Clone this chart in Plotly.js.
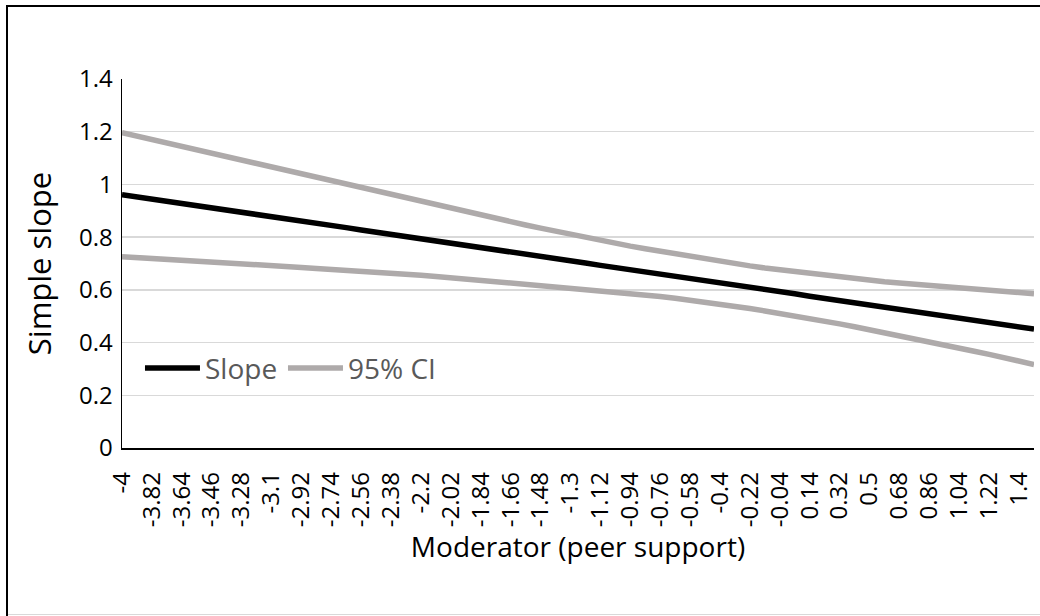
<!DOCTYPE html>
<html>
<head>
<meta charset="utf-8">
<script src="https://cdn.plot.ly/plotly-3.0.1.min.js"></script>
<style>
  html, body { margin: 0; padding: 0; background: #ffffff; }
  #wrap { position: relative; width: 1040px; height: 616px; overflow: hidden; }
  #chart { position: absolute; left: 0; top: 0; width: 1040px; height: 616px; }
  #frame { position: absolute; left: 6px; top: 5px; width: 1040px; height: 620px;
           border-left: 2px solid #000; border-top: 2px solid #000; pointer-events: none; }
  #bottomline { position: absolute; left: 8px; top: 614px; width: 1040px; height: 0;
           border-top: 1px solid #d9d9d9; pointer-events: none; }
</style>
</head>
<body>
<div id="wrap">
  <div id="chart"></div>
  <div id="frame"></div>
  <div id="bottomline"></div>
</div>
<script>
// Moderator values (x categories, step 0.09)
const moderator = [-4,-3.91,-3.82,-3.73,-3.64,-3.55,-3.46,-3.37,-3.28,-3.19,-3.1,-3.01,-2.92,-2.83,-2.74,-2.65,-2.56,-2.47,-2.38,-2.29,-2.2,-2.11,-2.02,-1.93,-1.84,-1.75,-1.66,-1.57,-1.48,-1.39,-1.3,-1.21,-1.12,-1.03,-0.94,-0.85,-0.76,-0.67,-0.58,-0.49,-0.4,-0.31,-0.22,-0.13,-0.04,0.05,0.14,0.23,0.32,0.41,0.5,0.59,0.68,0.77,0.86,0.95,1.04,1.13,1.22,1.31,1.4,1.49];

// Simple slope
const slope = [0.961,0.953,0.944,0.936,0.928,0.919,0.911,0.902,0.894,0.886,0.877,0.869,0.861,0.852,0.844,0.836,0.827,0.819,0.811,0.802,0.794,0.785,0.777,0.769,0.760,0.752,0.744,0.735,0.727,0.719,0.710,0.702,0.693,0.685,0.677,0.668,0.660,0.652,0.643,0.635,0.627,0.618,0.610,0.601,0.593,0.585,0.576,0.568,0.560,0.551,0.543,0.535,0.526,0.518,0.510,0.501,0.493,0.484,0.476,0.468,0.459,0.451];

// 95% CI upper bound
const ciUpper = [1.196,1.183,1.169,1.156,1.143,1.129,1.116,1.103,1.089,1.076,1.063,1.050,1.037,1.024,1.011,0.997,0.984,0.972,0.959,0.946,0.933,0.920,0.908,0.895,0.883,0.871,0.858,0.846,0.834,0.822,0.811,0.799,0.788,0.777,0.766,0.756,0.746,0.736,0.726,0.717,0.708,0.699,0.691,0.683,0.676,0.668,0.662,0.655,0.649,0.643,0.637,0.631,0.626,0.621,0.616,0.611,0.607,0.602,0.598,0.593,0.589,0.585];

// 95% CI lower bound
const ciLower = [0.726,0.723,0.719,0.716,0.713,0.709,0.706,0.702,0.699,0.695,0.692,0.688,0.685,0.681,0.678,0.674,0.670,0.666,0.662,0.658,0.655,0.651,0.646,0.642,0.638,0.634,0.629,0.624,0.620,0.615,0.610,0.604,0.599,0.593,0.587,0.581,0.575,0.568,0.561,0.553,0.545,0.537,0.529,0.520,0.511,0.501,0.491,0.481,0.471,0.460,0.449,0.438,0.426,0.415,0.403,0.391,0.379,0.367,0.355,0.342,0.330,0.317];

// X tick labels (every other category)
const xTickLabels = ["-4","-3.82","-3.64","-3.46","-3.28","-3.1","-2.92","-2.74","-2.56","-2.38","-2.2","-2.02","-1.84","-1.66","-1.48","-1.3","-1.12","-0.94","-0.76","-0.58","-0.4","-0.22","-0.04","0.14","0.32","0.5","0.68","0.86","1.04","1.22","1.4"];

// Legend entries
const legendNames = ["Slope", "95% CI"];

const FONT = '"Open Sans", "Noto Sans", "Liberation Sans", sans-serif';
const CI_COLOR = '#aeaaaa';
const LINE_W = 5.5;

const traces = [
  { x: moderator, y: slope, type: 'scatter', mode: 'lines', name: legendNames[0],
    line: { color: '#000000', width: LINE_W }, hoverinfo: 'skip' },
  { x: moderator, y: ciUpper, type: 'scatter', mode: 'lines', name: legendNames[1],
    line: { color: CI_COLOR, width: LINE_W }, hoverinfo: 'skip' },
  { x: moderator, y: ciLower, type: 'scatter', mode: 'lines', name: legendNames[1],
    line: { color: CI_COLOR, width: LINE_W }, hoverinfo: 'skip' }
];

// Legend drawn inside the plot area (Excel-style long line samples)
const legY = 0.217;
const shapes = [
  { type: 'line', xref: 'paper', yref: 'paper', x0: 0.0252, x1: 0.0855, y0: legY, y1: legY,
    line: { color: '#000000', width: LINE_W } },
  { type: 'line', xref: 'paper', yref: 'paper', x0: 0.182, x1: 0.2423, y0: legY, y1: legY,
    line: { color: CI_COLOR, width: LINE_W } }
];
const annotations = [
  { xref: 'paper', yref: 'paper', x: 0.0885, y: legY, xanchor: 'left', yanchor: 'middle',
    text: legendNames[0], showarrow: false, font: { family: FONT, size: 28, color: '#595959' } },
  { xref: 'paper', yref: 'paper', x: 0.2453, y: legY, xanchor: 'left', yanchor: 'middle',
    text: legendNames[1], showarrow: false, font: { family: FONT, size: 28, color: '#595959' } }
];

const layout = {
  width: 1040, height: 616,
  margin: { l: 122, r: 6, t: 79, b: 168, pad: 0 },
  paper_bgcolor: 'rgba(0,0,0,0)', plot_bgcolor: '#ffffff',
  font: { family: FONT, color: '#000000', size: 24 },
  showlegend: false,
  shapes: shapes,
  annotations: annotations,
  xaxis: {
    type: 'linear', range: [-4, 1.49], fixedrange: true,
    tickmode: 'array', tickvals: xTickLabels.map(Number), ticktext: xTickLabels,
    tickangle: -90, ticks: '', showgrid: false, zeroline: false,
    showline: true, linecolor: '#000000', linewidth: 1.5,
    tickfont: { family: FONT, size: 24, color: '#000000' },
    ticklabelstandoff: 13,
    title: { text: 'Moderator (peer support)', font: { family: FONT, size: 28, color: '#000000' }, standoff: 0 }
  },
  yaxis: {
    range: [0, 1.4], dtick: 0.2, tick0: 0, fixedrange: true, ticks: '',
    showgrid: true, gridcolor: '#d9d9d9', gridwidth: 1.5, zeroline: false,
    showline: true, linecolor: '#000000', linewidth: 1.5,
    tickfont: { family: FONT, size: 24, color: '#000000' },
    ticklabelstandoff: 3,
    title: { text: 'Simple slope', font: { family: FONT, size: 31, color: '#000000' }, standoff: 18 }
  }
};

Plotly.newPlot('chart', traces, layout, { staticPlot: true, displayModeBar: false });
</script>
</body>
</html>
